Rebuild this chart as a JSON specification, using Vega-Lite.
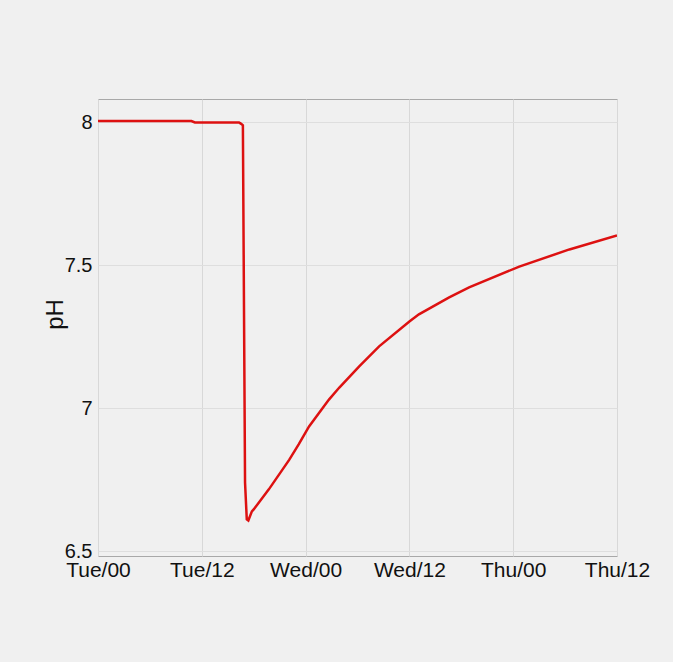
{
  "$schema": "https://vega.github.io/schema/vega-lite/v6.json",
  "width": 519,
  "height": 457,
  "autosize": {"type": "none"},
  "padding": {"left": 98, "top": 99, "right": 56, "bottom": 106},
  "background": "#f0f0f0",
  "data": {
    "values": [
      {"hours": 0, "pH": 8.005},
      {"hours": 10.8, "pH": 8.005},
      {"hours": 11.2, "pH": 8.0},
      {"hours": 16.3, "pH": 8.0},
      {"hours": 16.55, "pH": 7.995},
      {"hours": 16.75, "pH": 7.99},
      {"hours": 17.0, "pH": 6.74},
      {"hours": 17.2, "pH": 6.612},
      {"hours": 17.38, "pH": 6.608},
      {"hours": 17.79, "pH": 6.64},
      {"hours": 18.0, "pH": 6.647},
      {"hours": 19.75, "pH": 6.717},
      {"hours": 22.1, "pH": 6.82},
      {"hours": 23.2, "pH": 6.874},
      {"hours": 24.4, "pH": 6.937},
      {"hours": 26.7, "pH": 7.031},
      {"hours": 27.9, "pH": 7.073},
      {"hours": 30.2, "pH": 7.147},
      {"hours": 32.5, "pH": 7.217},
      {"hours": 36.0, "pH": 7.304},
      {"hours": 37.1, "pH": 7.329},
      {"hours": 40.6, "pH": 7.388},
      {"hours": 42.9, "pH": 7.423},
      {"hours": 48.7, "pH": 7.496},
      {"hours": 54.5, "pH": 7.556},
      {"hours": 60, "pH": 7.605}
    ]
  },
  "mark": {"type": "line", "color": "#dd1111", "strokeWidth": 2.5, "clip": true},
  "encoding": {
    "x": {
      "field": "hours",
      "type": "quantitative",
      "scale": {"domain": [0, 60], "nice": false, "zero": false},
      "axis": {
        "values": [0, 12, 24, 36, 48, 60],
        "title": null,
        "labelExpr": "['Tue','Wed','Thu'][floor(datum.value/24)] + '/' + (datum.value % 24 == 0 ? '00' : '12')",
        "ticks": false,
        "domain": false,
        "labelPadding": 3,
        "labelFontSize": 21,
        "labelColor": "#111111",
        "labelFlush": false,
        "labelOverlap": false,
        "grid": true,
        "gridColor": "#d8d8d8",
        "gridWidth": 1
      }
    },
    "y": {
      "field": "pH",
      "type": "quantitative",
      "scale": {"domain": [6.484, 8.082], "nice": false, "zero": false},
      "axis": {
        "values": [6.5, 7, 7.5, 8],
        "labelExpr": "'' + datum.value",
        "ticks": false,
        "domain": false,
        "labelPadding": 6,
        "labelFontSize": 20,
        "labelColor": "#111111",
        "labelFlush": false,
        "labelOverlap": false,
        "grid": true,
        "gridColor": "#dedede",
        "gridWidth": 1,
        "title": "pH",
        "titleFontSize": 24,
        "titleFontWeight": "normal",
        "titleColor": "#111111",
        "titleAngle": 270,
        "titleX": -36,
        "titleY": 215,
        "titleAlign": "center",
        "titleBaseline": "alphabetic"
      }
    }
  },
  "config": {
    "font": "Liberation Sans",
    "view": {"stroke": "#a8a8a8", "strokeWidth": 1, "fill": null}
  }
}
